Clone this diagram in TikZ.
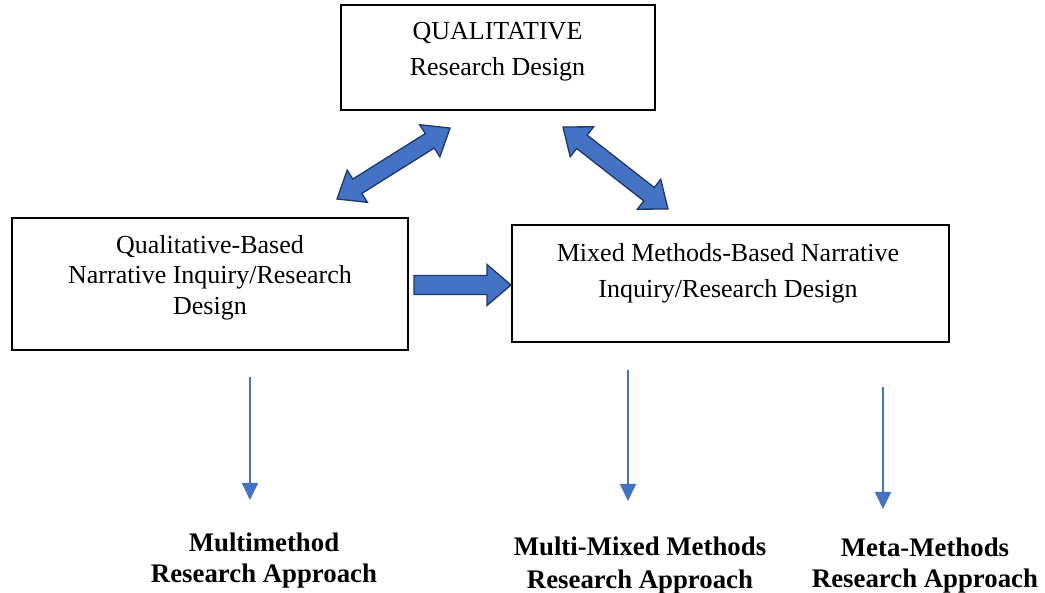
\documentclass[tikz,border=0pt]{standalone}
\usepackage{fontspec}
\setmainfont{Liberation Serif}
\usetikzlibrary{arrows.meta}
\definecolor{fillblue}{HTML}{4472C4}
\definecolor{edgeblue}{HTML}{1F3864}
\newcommand{\lns}[1]{\begin{tabular}[t]{@{}c@{}}#1\end{tabular}}
\tikzset{
  boxnode/.style={draw=black, line width=1.1pt, rectangle, inner sep=0pt},
  txt/.style={anchor=base, inner sep=0pt, font=\fontsize{26}{#1}\selectfont},
  btxt/.style={anchor=base, inner sep=0pt, font=\bfseries\fontsize{26.8}{#1}\selectfont},
  blockarrow/.style={fill=fillblue, draw=edgeblue, line width=1.3pt, line join=miter},
  thinarrow/.style={draw=fillblue, line width=1.8pt, -{Triangle[width=16pt,length=17pt]}}
}
\newcommand{\dblarrow}[1]{%
  \path[blockarrow] (0,0) -- (24,19) -- (24,8.5) -- (#1-24,8.5) -- (#1-24,19) -- (#1,0)
    -- (#1-24,-19) -- (#1-24,-8.5) -- (24,-8.5) -- (24,-19) -- cycle;}
\begin{document}
\begin{tikzpicture}[x=1pt,y=-1pt]
\useasboundingbox (0,0) rectangle (1045,593);
% boxes
\node[boxnode, minimum width=314pt, minimum height=105pt] (top) at (498,57.5) {};
\node[boxnode, minimum width=396pt, minimum height=132pt] (left) at (210,284) {};
\node[boxnode, minimum width=437pt, minimum height=117pt] (right) at (730.5,283.5) {};
% box texts
\node[txt=35.7] (toptxt) at (497.5,40) {\lns{QUALITATIVE\\Research Design}};
\node[txt=30.5] (lefttxt) at (210,253.3) {\lns{Qualitative-Based\\Narrative Inquiry/Research\\Design}};
\node[txt=36] (righttxt) at (728,261.7) {\lns{Mixed Methods-Based Narrative\\Inquiry/Research Design}};
% block double arrows
\begin{scope}[shift={(337,199)}, rotate=32.1]
  \dblarrow{133.5}
\end{scope}
\begin{scope}[shift={(563,127)}, rotate=-38]
  \dblarrow{133.2}
\end{scope}
% block single arrow
\path[blockarrow] (414,275.5) -- (487,275.5) -- (487,264.5) -- (511,285) -- (487,305.5) -- (487,294.5) -- (414,294.5) -- cycle;
% bottom labels
\node[btxt=32] (b1) at (264,551) {\lns{Multimethod\\Research Approach}};
\node[btxt=33] (b2) at (640,555) {\lns{Multi-Mixed Methods\\Research Approach}};
\node[btxt=31] (b3) at (925,557) {\lns{Meta-Methods\\Research Approach}};
% thin arrows
\coordinate (a1s) at (250,377);
\coordinate (a1e) at (250,500);
\coordinate (a2s) at (628,370);
\coordinate (a2e) at (628,501);
\coordinate (a3s) at (883,387);
\coordinate (a3e) at (883,509);
\draw[thinarrow] (a1s) -- (a1e);
\draw[thinarrow] (a2s) -- (a2e);
\draw[thinarrow] (a3s) -- (a3e);
\end{tikzpicture}
\end{document}
